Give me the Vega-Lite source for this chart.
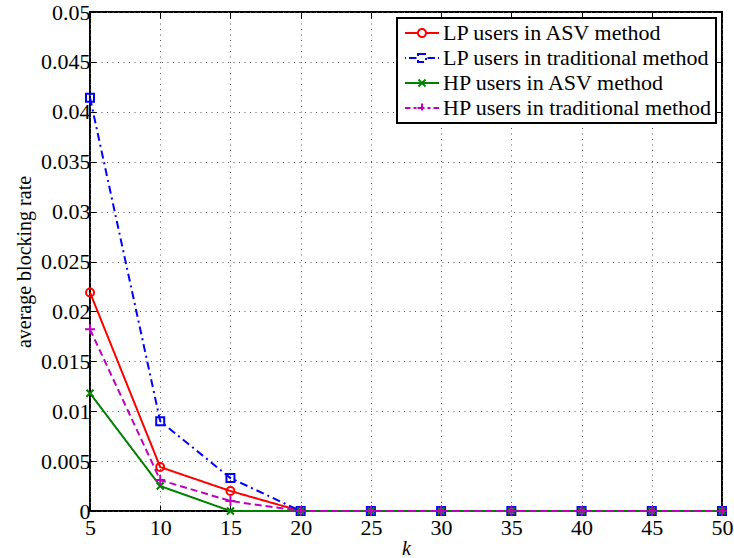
{
  "$schema": "https://vega.github.io/schema/vega-lite/v6.json",
  "width": 632,
  "height": 499,
  "autosize": {"type": "none"},
  "padding": {"left": 90, "top": 12, "right": 12, "bottom": 47},
  "background": "white",
  "config": {
    "view": {"stroke": "black", "strokeWidth": 2},
    "font": "Liberation Serif",
    "legend": {"strokeWidth": 2},
    "axis": {
      "labelFont": "Liberation Serif",
      "labelFontSize": 22,
      "labelColor": "black",
      "labelFlush": false,
      "labelOverlap": false,
      "titleFont": "Liberation Serif",
      "titleFontSize": 20,
      "titleFontWeight": "normal",
      "titleColor": "black",
      "tickColor": "black",
      "tickWidth": 1,
      "tickSize": -6,
      "domain": false,
      "gridColor": "#555555",
      "gridOpacity": 1,
      "gridDash": [1, 4.5],
      "gridWidth": 1
    }
  },
  "data": {
    "values": [
      {"series": "LP users in ASV method", "k": 5, "rate": 0.0219},
      {"series": "LP users in ASV method", "k": 10, "rate": 0.0044},
      {"series": "LP users in ASV method", "k": 15, "rate": 0.002},
      {"series": "LP users in ASV method", "k": 20, "rate": 0},
      {"series": "LP users in ASV method", "k": 25, "rate": 0},
      {"series": "LP users in ASV method", "k": 30, "rate": 0},
      {"series": "LP users in ASV method", "k": 35, "rate": 0},
      {"series": "LP users in ASV method", "k": 40, "rate": 0},
      {"series": "LP users in ASV method", "k": 45, "rate": 0},
      {"series": "LP users in ASV method", "k": 50, "rate": 0},
      {"series": "LP users in traditional method", "k": 5, "rate": 0.0414},
      {"series": "LP users in traditional method", "k": 10, "rate": 0.009},
      {"series": "LP users in traditional method", "k": 15, "rate": 0.0033},
      {"series": "LP users in traditional method", "k": 20, "rate": 0},
      {"series": "LP users in traditional method", "k": 25, "rate": 0},
      {"series": "LP users in traditional method", "k": 30, "rate": 0},
      {"series": "LP users in traditional method", "k": 35, "rate": 0},
      {"series": "LP users in traditional method", "k": 40, "rate": 0},
      {"series": "LP users in traditional method", "k": 45, "rate": 0},
      {"series": "LP users in traditional method", "k": 50, "rate": 0},
      {"series": "HP users in ASV method", "k": 5, "rate": 0.0118},
      {"series": "HP users in ASV method", "k": 10, "rate": 0.0025},
      {"series": "HP users in ASV method", "k": 15, "rate": 0},
      {"series": "HP users in ASV method", "k": 20, "rate": 0},
      {"series": "HP users in ASV method", "k": 25, "rate": 0},
      {"series": "HP users in ASV method", "k": 30, "rate": 0},
      {"series": "HP users in ASV method", "k": 35, "rate": 0},
      {"series": "HP users in ASV method", "k": 40, "rate": 0},
      {"series": "HP users in ASV method", "k": 45, "rate": 0},
      {"series": "HP users in ASV method", "k": 50, "rate": 0},
      {"series": "HP users in traditional method", "k": 5, "rate": 0.0182},
      {"series": "HP users in traditional method", "k": 10, "rate": 0.0031},
      {"series": "HP users in traditional method", "k": 15, "rate": 0.001},
      {"series": "HP users in traditional method", "k": 20, "rate": 0},
      {"series": "HP users in traditional method", "k": 25, "rate": 0},
      {"series": "HP users in traditional method", "k": 30, "rate": 0},
      {"series": "HP users in traditional method", "k": 35, "rate": 0},
      {"series": "HP users in traditional method", "k": 40, "rate": 0},
      {"series": "HP users in traditional method", "k": 45, "rate": 0},
      {"series": "HP users in traditional method", "k": 50, "rate": 0}
    ]
  },
  "resolve": {"axis": {"x": "independent", "y": "independent"}},
  "layer": [
    {
      "mark": {"type": "line", "strokeWidth": 2},
      "encoding": {
        "x": {"field": "k", "type": "quantitative", "scale": {"domain": [5, 50], "nice": false, "zero": false},
              "axis": {"orient": "bottom", "values": [5,10,15,20,25,30,35,40,45,50], "labelFont": "Liberation Serif", "title": "k", "titleFontStyle": "italic", "labelPadding": 12, "titlePadding": 0, "grid": true}},
        "y": {"field": "rate", "type": "quantitative", "scale": {"domain": [0, 0.05], "nice": false},
              "axis": {"orient": "left", "values": [0,0.005,0.01,0.015,0.02,0.025,0.03,0.035,0.04,0.045,0.05], "format": "~g", "labelFont": "Liberation Serif", "title": "average blocking rate", "labelPadding": 6, "titlePadding": 6, "grid": true}},
        "color": {"field": "series", "type": "nominal",
                  "scale": {"domain": ["LP users in ASV method", "LP users in traditional method", "HP users in ASV method", "HP users in traditional method"],
                            "range": ["#ff0000", "#0000ff", "#008000", "#bf00bf"]}},
        "strokeDash": {"field": "series", "type": "nominal", "legend": null,
                       "scale": {"domain": ["LP users in ASV method", "LP users in traditional method", "HP users in ASV method", "HP users in traditional method"],
                                 "range": [[1, 0], [8, 4, 2, 4], [1, 0], [7, 4]]}}
      }
    },
    {
      "transform": [{"filter": "datum.series === 'LP users in ASV method'"}],
      "mark": {"type": "point", "filled": false, "shape": "circle", "size": 64, "strokeWidth": 2, "color": "#ff0000", "opacity": 1},
      "encoding": {
        "x": {"field": "k", "type": "quantitative", "axis": {"orient": "top", "values": [5,10,15,20,25,30,35,40,45,50], "labels": false, "grid": false, "title": null}},
        "y": {"field": "rate", "type": "quantitative", "axis": {"orient": "right", "values": [0,0.005,0.01,0.015,0.02,0.025,0.03,0.035,0.04,0.045,0.05], "labels": false, "grid": false, "title": null}}
      }
    },
    {
      "transform": [{"filter": "datum.series === 'LP users in traditional method'"}],
      "mark": {"type": "point", "filled": false, "shape": "square", "size": 64, "strokeWidth": 2, "color": "#0000ff", "opacity": 1},
      "encoding": {
        "x": {"field": "k", "type": "quantitative", "axis": null},
        "y": {"field": "rate", "type": "quantitative", "axis": null}
      }
    },
    {
      "transform": [{"filter": "datum.series === 'HP users in ASV method'"}],
      "mark": {"type": "point", "filled": false, "shape": "M-1,-1L1,1M-1,1L1,-1", "size": 49, "strokeWidth": 2, "color": "#008000", "opacity": 1},
      "encoding": {
        "x": {"field": "k", "type": "quantitative", "axis": null},
        "y": {"field": "rate", "type": "quantitative", "axis": null}
      }
    },
    {
      "transform": [{"filter": "datum.series === 'HP users in traditional method'"}],
      "mark": {"type": "point", "filled": false, "shape": "M-1,0H1M0,-1V1", "size": 100, "strokeWidth": 2, "color": "#bf00bf", "opacity": 1},
      "encoding": {
        "x": {"field": "k", "type": "quantitative", "axis": null},
        "y": {"field": "rate", "type": "quantitative", "axis": null}
      }
    },
    {
      "mark": {"type": "point", "filled": false, "opacity": 0, "strokeWidth": 2},
      "encoding": {
        "x": {"field": "k", "type": "quantitative", "axis": null},
        "y": {"field": "rate", "type": "quantitative", "axis": null},
        "color": {"field": "series", "type": "nominal",
                  "legend": {"title": null, "orient": "top-right", "offset": 6, "padding": 4, "fillColor": "white", "strokeColor": "black",
                             "labelFont": "Liberation Serif", "labelFontSize": 22, "labelColor": "black", "labelLimit": 400, "labelOffset": 10,
                             "symbolSize": 400, "symbolOffset": 10, "symbolStrokeWidth": 2, "symbolOpacity": 1, "rowPadding": 3}},
        "shape": {"field": "series", "type": "nominal",
                  "scale": {"domain": ["LP users in ASV method", "LP users in traditional method", "HP users in ASV method", "HP users in traditional method"],
                            "range": [
                              "M-1.7,0H-0.4M0.4,0H1.7M-0.4,0A0.4,0.4 0 1,0 0.4,0A0.4,0.4 0 1,0 -0.4,0",
                              "M-1.7,0H-1.6M-1.3,0H-0.55M0.55,0H1.3M1.6,0H1.7M-0.4,-0.4H0.4V0.4H-0.4Z",
                              "M-1.7,0H1.7M-0.35,-0.35L0.35,0.35M-0.35,0.35L0.35,-0.35",
                              "M-1.7,0H-1.15M-0.85,0H-0.55M-0.45,0H0.45M0,-0.45V0.45M0.55,0H0.85M1.15,0H1.7"
                            ]},
                  "legend": {"title": null, "orient": "top-right", "offset": 6, "padding": 4, "fillColor": "white", "strokeColor": "black",
                             "labelFont": "Liberation Serif", "labelFontSize": 22, "labelColor": "black", "labelLimit": 400, "labelOffset": 10,
                             "symbolSize": 400, "symbolOffset": 10, "symbolStrokeWidth": 2, "symbolOpacity": 1, "rowPadding": 3}}
      }
    }
  ]
}
